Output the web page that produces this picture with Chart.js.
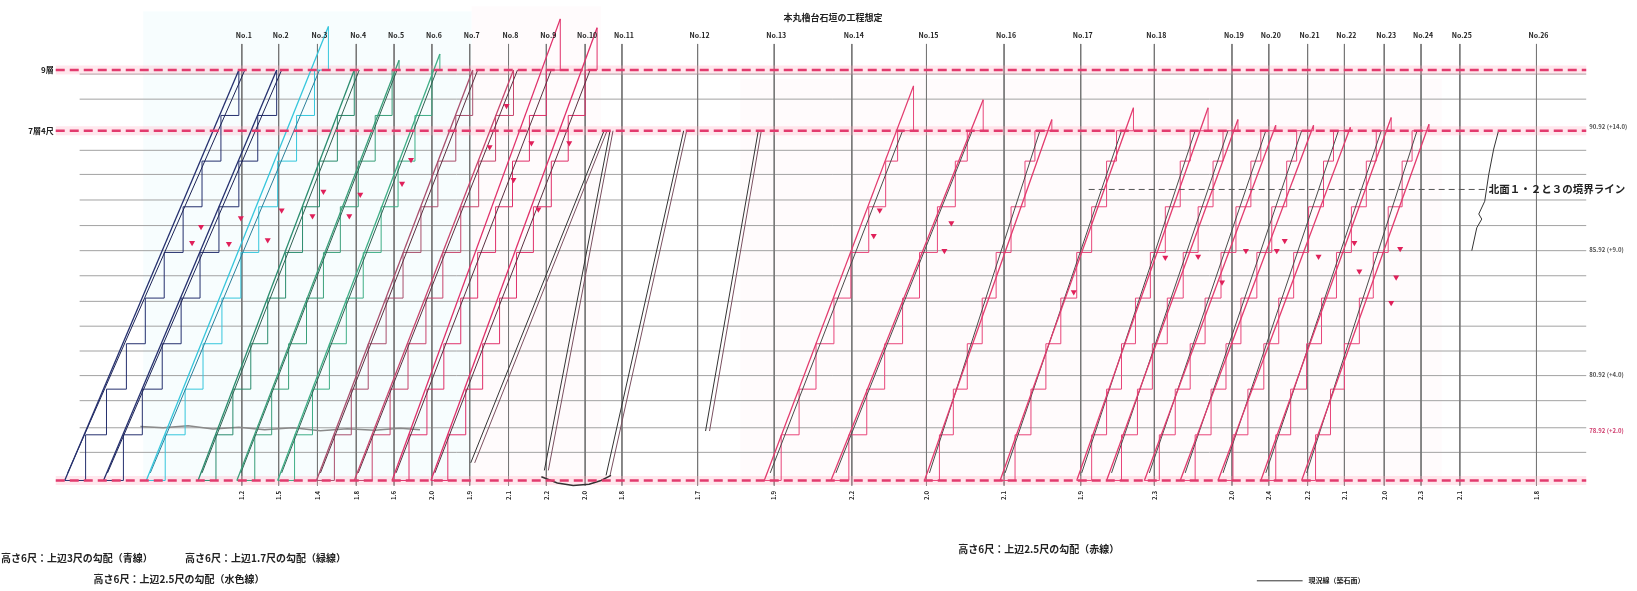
<!DOCTYPE html>
<html lang="ja">
<head>
<meta charset="utf-8">
<title>本丸櫓台石垣の工程想定</title>
<script src="https://cdn.jsdelivr.net/npm/chart.js@4.4.1/dist/chart.umd.min.js"></script>
<style>
  html, body { margin: 0; padding: 0; background: #fff; }
  #wrap { position: relative; width: 1637px; height: 591px; }
</style>
</head>
<body>
<div id="wrap"><canvas id="chart"></canvas></div>
<script>
// x: distance along the wall (sheet units), y: height in m (1層 = 6尺 ≒ 1.82 m)

const stationNames = ['No.1', 'No.2', 'No.3', 'No.4', 'No.5', 'No.6', 'No.7', 'No.8', 'No.9', 'No.10',
  'No.11', 'No.12', 'No.13', 'No.14', 'No.15', 'No.16', 'No.17', 'No.18', 'No.19', 'No.20',
  'No.21', 'No.22', 'No.23', 'No.24', 'No.25', 'No.26'];
const stationX = [239, 276, 315, 354, 392, 430, 468, 507, 545, 584, 621, 697, 774, 852, 927,
  1005, 1082, 1156, 1234, 1271, 1310, 1347, 1387, 1424, 1463, 1540];
const stationFootText = ['1.2', '1.5', '1.4', '1.8', '1.6', '2.0', '1.9', '2.1', '2.2', '2.0',
  '1.8', '1.7', '1.9', '2.2', '2.0', '2.1', '1.9', '2.3', '2.0', '2.4', '2.2', '2.1', '2.0', '2.3', '2.1', '1.8'];

// height marks (m)
const markNames = ['9層', '7層4尺'];
const markLevels = [16.36, 13.94];
const redLevels = [16.36, 13.94, 0];
const gridLevels = [1.12, 2.1, 3.18, 4.18, 5.16, 6.15, 7.14, 8.16, 9.16, 10.16, 11.18, 12.2, 13.16, 15.2, 16.2];

// left group: stairs up to 9層 (one point per 層, optional step above)
const leftLevels = [0, 1.82, 3.64, 5.45, 7.27, 9.09, 10.91, 12.73, 14.55, 16.36];
const leftBoxTop = [null, null, 18.1, null, 16.75, 17.0, null, null, 18.4, 18.05];
const leftSeriesX = [
  [61, 82, 103, 123, 142, 161, 180, 199, 218, 236],
  [100, 120, 139, 159, 178, 197, 216, 236, 255, 274],
  [143, 162, 182, 200, 219, 238, 256, 275, 294, 312, 326],
  [195, 213, 230, 248, 265, 283, 300, 317, 335, 352],
  [234, 252, 269, 286, 304, 321, 338, 356, 373, 390, 397],
  [275, 292, 310, 327, 344, 361, 379, 396, 413, 430, 438],
  [314, 332, 349, 366, 384, 401, 419, 436, 454, 471],
  [352, 370, 388, 406, 424, 441, 459, 477, 494, 512],
  [390, 407, 425, 442, 459, 476, 494, 511, 528, 545, 559],
  [429, 446, 464, 481, 498, 515, 532, 550, 567, 584, 596]
];
const leftActualX = [[64, 242], [104, 279], [147, 317], [199, 357], [238, 395], [279, 435], [318, 476], [356, 516], [394, 550], [433, 589]];
const leftColors = ['#25306e', '#25306e', '#35c6dc', '#2b8c6e', '#3a9f7a', '#3fae86', '#a9506e', '#c8466e', '#e0306a', '#e0306a'];
const leftActualColors = ['#1b2255', '#1b2255', '#2a7f9a', '#2f5f50', '#2f5f50', '#2f5f50', '#5a3040', '#5a3040', '#5a3040', '#5a3040'];

// right group: stairs up to 7層4尺 plus one step above
const rightLevels = [0, 1.82, 3.64, 5.45, 7.27, 9.09, 10.91, 12.73, 13.94];
const rightBoxTop = [15.73, 15.18, 14.39, 14.86, 14.86, 14.39, 14.16, 14.16, 14.08, 14.47, 14.2];
const rightSeriesX = [
  [764, 781, 799, 816, 834, 851, 869, 886, 898, 914],
  [831, 849, 867, 885, 903, 920, 938, 956, 968, 984],
  [925, 940, 954, 968, 983, 997, 1012, 1026, 1036, 1053],
  [1001, 1016, 1032, 1047, 1062, 1078, 1093, 1108, 1118, 1135],
  [1078, 1093, 1108, 1123, 1137, 1152, 1167, 1182, 1192, 1210],
  [1108, 1123, 1139, 1154, 1169, 1185, 1200, 1215, 1225, 1240],
  [1146, 1161, 1177, 1192, 1207, 1223, 1238, 1253, 1263, 1278],
  [1182, 1197, 1213, 1228, 1243, 1259, 1274, 1289, 1299, 1316],
  [1220, 1235, 1250, 1266, 1281, 1296, 1311, 1326, 1336, 1353],
  [1263, 1278, 1293, 1309, 1324, 1339, 1354, 1369, 1379, 1394],
  [1304, 1318, 1333, 1347, 1362, 1376, 1391, 1405, 1415, 1432]
];
const rightActualX = [[770, 903], [836, 973], [930, 1041], [1006, 1123], [1083, 1197], [1113, 1230], [1151, 1268], [1187, 1304], [1225, 1341], [1268, 1384], [1309, 1420]];

// middle group: progress lines only (double lines)
const midBottomX = [469, 543, 605, 705];
const midBottomY = [0.7, 0.4, 0.2, 1.97];
const midTopX = [603, 609, 683, 758];

// present ground line and other traced lines
const groundX = [137, 160, 185, 210, 236, 262, 290, 318, 345, 372, 398, 418];
const groundY = [2.15, 2.1, 2.18, 2.05, 2.12, 2.02, 2.1, 1.98, 2.06, 2.0, 2.08, 2.02];
const footX = [540, 556, 572, 588, 600, 610];
const footY = [0.15, -0.1, -0.2, -0.15, 0.0, 0.2];
const squiggleX = [1502, 1497, 1492, 1488, 1482, 1485, 1480, 1475];
const squiggleY = [13.96, 13.21, 12.19, 11.13, 10.62, 10.42, 10.07, 9.16];
const boundaryX = [1090, 1488];
const boundaryLevel = 11.6;
const boundaryText = '北面１・２と３の境界ライン';

// red ▼ marks
const markX = [198, 189, 238, 226, 265, 279, 321, 310, 358, 347, 409, 400, 488, 512, 537, 505, 530, 568,
  880, 874, 945, 952, 1075, 1167, 1200, 1224, 1248, 1279, 1287, 1321, 1357, 1362, 1399, 1394, 1403];
const markY = [10.11, 9.48, 10.46, 9.44, 9.59, 10.77, 11.52, 10.54, 11.4, 10.54, 12.78, 11.84, 13.29, 11.99, 10.81, 14.94, 13.45, 13.45,
  10.77, 9.75, 9.16, 10.26, 7.51, 8.89, 8.93, 7.9, 9.16, 9.16, 9.56, 8.93, 9.48, 8.34, 8.1, 7.08, 9.24];

// faint colour washes behind the work areas: [x0, x1, y0, y1]
const washCyan = [140, 470, 0, 18.7];
const washPink = [[470, 600, 0, 18.9], [740, 1445, 0, 16.0]];

const rightLabelText = ['90.92 (+14.0)', '85.92 (+9.0)', '80.92 (+4.0)', '78.92 (+2.0)'];
const rightLabelLevels = [14.1, 9.2, 4.2, 2.0];

const titleText = '本丸櫓台石垣の工程想定';
const noteText = ['高さ6尺：上辺3尺の勾配（青線）', '高さ6尺：上辺1.7尺の勾配（緑線）', '高さ6尺：上辺2.5尺の勾配（水色線）', '高さ6尺：上辺2.5尺の勾配（赤線）'];
const noteX = [-3, 182, 90, 959];
const noteY = [-3.09, -3.09, -3.93, -2.75];
const keyLineX = [1259, 1305];
const keyLineY = -4.0;
const keyText = '現況線（築石面）';

const datasets = [];
function addLine(points, style) {
  datasets.push(Object.assign({
    data: points, showLine: true, pointRadius: 0, fill: false,
    borderWidth: 1, borderColor: '#444', order: 5
  }, style));
}

gridLevels.forEach(function (v) {
  addLine([{x: 76, y: v}, {x: 1590, y: v}], {borderColor: '#a2a2a2', order: 30});
});
stationX.forEach(function (sx) {
  addLine([{x: sx, y: 17.4}, {x: sx, y: -0.2}], {borderColor: '#777', order: 29});
});
redLevels.forEach(function (v) {
  addLine([{x: 52, y: v}, {x: 1590, y: v}], {borderColor: 'rgba(255,170,192,0.28)', borderWidth: 9, order: 28});
  addLine([{x: 52, y: v}, {x: 1590, y: v}], {borderColor: '#e23b6e', borderWidth: 2.4, borderDash: [9, 5], order: 2});
});

leftSeriesX.forEach(function (xs, i) {
  const pts = xs.map(function (xv, k) {
    return {x: xv, y: k < leftLevels.length ? leftLevels[k] : leftBoxTop[i]};
  });
  addLine(pts, {borderColor: leftColors[i], stepped: 'before', order: 6});
  addLine([pts[0], pts[pts.length - 1]], {borderColor: leftColors[i], borderWidth: 1.3, order: 5});
  addLine([{x: leftActualX[i][0], y: 0.3}, {x: leftActualX[i][1], y: 16.36}], {borderColor: leftActualColors[i], order: 5});
});

rightSeriesX.forEach(function (xs, i) {
  const pts = xs.map(function (xv, k) {
    return {x: xv, y: k < rightLevels.length ? rightLevels[k] : rightBoxTop[i]};
  });
  addLine(pts, {borderColor: '#e8457a', stepped: 'before', order: 6});
  addLine([pts[0], pts[pts.length - 1]], {borderColor: '#e23b6e', borderWidth: 1.3, order: 5});
  addLine([{x: rightActualX[i][0], y: 0.3}, {x: rightActualX[i][1], y: 13.94}], {borderColor: '#4a4a4a', order: 5});
});

midBottomX.forEach(function (bx, i) {
  addLine([{x: bx, y: midBottomY[i]}, {x: midTopX[i], y: 13.94}], {borderColor: '#333', order: 5});
  addLine([{x: bx + 4, y: midBottomY[i]}, {x: midTopX[i] + 3, y: 13.94}], {borderColor: '#7a5060', order: 5});
});

addLine(groundX.map(function (v, k) { return {x: v, y: groundY[k]}; }), {borderColor: '#8a8a8a', borderWidth: 1.5, order: 7});
addLine(footX.map(function (v, k) { return {x: v, y: footY[k]}; }), {borderColor: '#333', borderWidth: 1.5, order: 4});
addLine(squiggleX.map(function (v, k) { return {x: v, y: squiggleY[k]}; }), {borderColor: '#333', order: 4});
addLine([{x: boundaryX[0], y: boundaryLevel}, {x: boundaryX[1], y: boundaryLevel}], {borderColor: '#555', borderDash: [6, 4], order: 4});
addLine([{x: keyLineX[0], y: keyLineY}, {x: keyLineX[1], y: keyLineY}], {borderColor: '#333', order: 4});

datasets.push({
  data: markX.map(function (v, k) { return {x: v, y: markY[k]}; }),
  showLine: false, pointStyle: 'triangle', rotation: 180, pointRadius: 3.5,
  backgroundColor: '#e0205a', borderColor: '#e0205a', borderWidth: 0, order: 0
});

const sheetWash = {
  id: 'sheetWash',
  beforeDatasetsDraw(chart) {
    const ctx = chart.ctx;
    const xs = chart.scales.x, ys = chart.scales.y;
    function box(b, colour) {
      const x0 = xs.getPixelForValue(b[0]), x1 = xs.getPixelForValue(b[1]);
      const y0 = ys.getPixelForValue(b[2]), y1 = ys.getPixelForValue(b[3]);
      ctx.fillStyle = colour;
      ctx.fillRect(x0, y1, x1 - x0, y0 - y1);
    }
    ctx.save();
    box(washCyan, 'rgba(205,244,247,0.16)');
    washPink.forEach(function (b) { box(b, 'rgba(255,228,236,0.14)'); });
    ctx.restore();
  }
};

const sheetText = {
  id: 'sheetText',
  afterDatasetsDraw(chart) {
    const ctx = chart.ctx;
    const xs = chart.scales.x, ys = chart.scales.y;
    const px = function (v) { return xs.getPixelForValue(v); };
    const py = function (v) { return ys.getPixelForValue(v); };
    const jp = '"Noto Sans CJK JP", "Noto Sans", sans-serif';
    ctx.save();
    ctx.textBaseline = 'middle';
    ctx.fillStyle = '#222';

    ctx.font = 'bold 9px ' + jp;
    ctx.textAlign = 'center';
    ctx.fillText(titleText, px(833), py(18.44));

    ctx.font = 'bold 7px ' + jp;
    stationNames.forEach(function (n, i) { ctx.fillText(n, px(stationX[i] + 2), py(17.73)); });

    ctx.font = 'bold 6px ' + jp;
    stationFootText.forEach(function (t, i) {
      ctx.save();
      ctx.translate(px(stationX[i]), py(-0.6));
      ctx.rotate(-Math.PI / 2);
      ctx.fillText(t, 0, 0);
      ctx.restore();
    });

    ctx.font = 'bold 8px ' + jp;
    ctx.textAlign = 'right';
    markNames.forEach(function (n, i) { ctx.fillText(n, px(50), py(markLevels[i])); });

    ctx.textAlign = 'left';
    ctx.font = 'bold 6px ' + jp;
    rightLabelText.forEach(function (t, i) {
      ctx.fillStyle = i === rightLabelText.length - 1 ? '#d04070' : '#555';
      ctx.fillText(t, px(1593), py(rightLabelLevels[i]));
    });

    ctx.fillStyle = '#222';
    ctx.font = 'bold 10.5px ' + jp;
    ctx.fillText(boundaryText, px(1492), py(boundaryLevel));

    ctx.font = 'bold 10px ' + jp;
    noteText.forEach(function (t, i) { ctx.fillText(t, px(noteX[i]), py(noteY[i])); });

    ctx.font = 'bold 7px ' + jp;
    ctx.fillText(keyText, px(1311), py(keyLineY));
    ctx.restore();
  }
};

new Chart(document.getElementById('chart'), {
  type: 'scatter',
  data: { datasets: datasets },
  options: {
    responsive: true,
    maintainAspectRatio: false,
    animation: false,
    layout: { padding: 0 },
    plugins: { legend: { display: false }, tooltip: { enabled: false } },
    scales: {
      x: { type: 'linear', display: false, min: 0, max: 1637 },
      y: { type: 'linear', display: false, min: -4.247, max: 18.993 }
    }
  },
  plugins: [sheetWash, sheetText]
});
</script>
</body>
</html>
